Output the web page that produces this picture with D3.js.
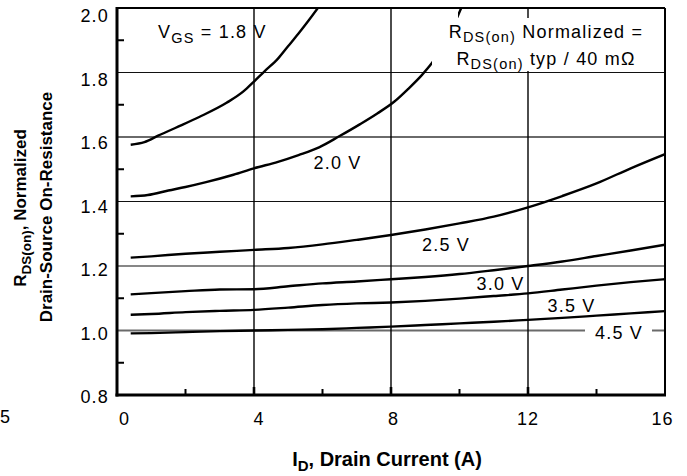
<!DOCTYPE html>
<html>
<head>
<meta charset="utf-8">
<script src="https://cdn.jsdelivr.net/npm/d3@7"></script>
<style>
  html, body { margin: 0; padding: 0; background: #fff; }
  svg { display: block; font-family: "Liberation Sans", Arial, Helvetica, sans-serif; }
</style>
</head>
<body>
<svg id="chart" width="687" height="476"></svg>
<script>
// Normalized on-resistance vs drain current, one curve per gate voltage
const xTicks = [0, 4, 8, 12, 16];
const xMinorTicks = [2, 6, 10, 14];
const yTicks = [0.8, 1.0, 1.2, 1.4, 1.6, 1.8, 2.0];
const yMinorTicks = [0.9, 1.1, 1.3, 1.5, 1.7, 1.9];

const id18 = [0.4, 0.8, 1.2, 1.7, 2.4, 3.2, 3.7, 4.0, 4.3, 4.7, 5.0, 5.3, 5.6, 5.9];
const r18  = [1.576, 1.584, 1.604, 1.628, 1.662, 1.706, 1.742, 1.772, 1.803, 1.843, 1.882, 1.921, 1.962, 2.005];

const id20 = [0.4, 0.9, 1.5, 2.0, 2.6, 3.4, 4.0, 4.7, 5.3, 5.9, 6.5, 7.1, 7.6, 8.1, 8.5, 8.9, 9.2, 9.6, 10.05];
const r20  = [1.416, 1.420, 1.434, 1.445, 1.460, 1.483, 1.503, 1.523, 1.544, 1.568, 1.603, 1.640, 1.673, 1.710, 1.749, 1.792, 1.830, 1.895, 2.0];

const id25 = [0.4, 1, 2, 3, 4, 5, 6, 7, 8, 9, 10, 11, 12, 13, 14, 15, 16];
const r25  = [1.226, 1.230, 1.238, 1.244, 1.250, 1.256, 1.267, 1.281, 1.296, 1.313, 1.332, 1.353, 1.382, 1.417, 1.456, 1.503, 1.547];

const id30 = [0.4, 1, 2, 3, 4, 5, 6, 7, 8, 9, 10, 11, 12, 13, 14, 15, 16];
const r30  = [1.112, 1.116, 1.122, 1.127, 1.128, 1.137, 1.146, 1.152, 1.159, 1.166, 1.175, 1.187, 1.200, 1.214, 1.231, 1.248, 1.266];

const id35 = [0.4, 1, 2, 3, 4, 5, 6, 7, 8, 9, 10, 11, 12, 13, 14, 15, 16];
const r35  = [1.049, 1.051, 1.057, 1.061, 1.064, 1.071, 1.079, 1.084, 1.087, 1.092, 1.099, 1.107, 1.115, 1.127, 1.139, 1.150, 1.159];

const id45 = [0.4, 1, 2, 3, 4, 5, 6, 7, 8, 9, 10, 11, 12, 13, 14, 15, 16];
const r45  = [0.991, 0.992, 0.995, 0.998, 1.000, 1.002, 1.004, 1.008, 1.012, 1.017, 1.022, 1.027, 1.033, 1.039, 1.046, 1.053, 1.060];

const seriesNames = ["1.8 V", "2.0 V", "2.5 V", "3.0 V", "3.5 V", "4.5 V"];

const series = [
  { name: seriesNames[0], x: id18, y: r18 },
  { name: seriesNames[1], x: id20, y: r20 },
  { name: seriesNames[2], x: id25, y: r25 },
  { name: seriesNames[3], x: id30, y: r30 },
  { name: seriesNames[4], x: id35, y: r35 },
  { name: seriesNames[5], x: id45, y: r45 }
];

const svg = d3.select("#chart");
const plot = { left: 117, right: 665, top: 8, bottom: 395 };

const x = d3.scaleLinear().domain([0, 16]).range([plot.left, plot.right]);
const y = d3.scaleLinear().domain([0.8, 2.0]).range([plot.bottom, plot.top]);
// tick label placement (labels sit on a slightly tighter pitch than the grid)
const xLab = d3.scaleLinear().domain([0, 16]).range([124, 662]);
const yLab = d3.scaleLinear().domain([0.8, 2.0]).range([397, 15.5]);

const FS = 18;       // regular text
const SUB = 14.5;    // subscripts
const LS = 1.2;      // letter spacing of regular text

// clip for curves
svg.append("defs").append("clipPath").attr("id", "plotClip")
  .append("rect")
  .attr("x", plot.left).attr("y", plot.top)
  .attr("width", plot.right - plot.left).attr("height", plot.bottom - plot.top);

// grid
const grid = svg.append("g");
grid.selectAll("line.h").data(yTicks.filter(v => v > 0.8 && v < 2.0)).join("line")
  .attr("x1", plot.left).attr("x2", plot.right)
  .attr("y1", d => y(d)).attr("y2", d => y(d))
  .attr("stroke", d => (d === 1.0 || d === 1.6) ? "#6a6a6a" : "#111")
  .attr("stroke-width", d => (d === 1.0 || d === 1.6) ? 2 : 1.2);
grid.selectAll("line.v").data(xTicks.filter(v => v > 0 && v < 16)).join("line")
  .attr("y1", plot.top).attr("y2", plot.bottom)
  .attr("x1", d => x(d)).attr("x2", d => x(d))
  .attr("stroke", "#000").attr("stroke-width", 1.4);

// curves
const line = d3.line().x(d => x(d[0])).y(d => y(d[1])).curve(d3.curveMonotoneX);
svg.append("g").attr("clip-path", "url(#plotClip)")
  .selectAll("path").data(series).join("path")
  .attr("d", s => line(s.x.map((v, i) => [v, s.y[i]])))
  .attr("fill", "none").attr("stroke", "#000").attr("stroke-width", 2.4)
  .attr("stroke-linejoin", "round");

// helper for text with a subscript part
function subText(g, parts, attrs, opts = {}) {
  const fs = opts.fs || FS, sub = opts.sub || SUB, ls = opts.ls === undefined ? LS : opts.ls;
  const t = g.append("text").attr("font-size", fs).attr("fill", "#000")
    .attr("letter-spacing", ls);
  Object.entries(attrs).forEach(([k, v]) => t.attr(k, v));
  parts.forEach(p => {
    if (p.sub) {
      t.append("tspan").attr("font-size", sub).attr("dy", 4.5).text(p.sub);
    } else {
      t.append("tspan").attr("dy", p.after ? -4.5 : 0).text(p.txt);
    }
  });
  return t;
}

// normalization note, on a white backing
const note = svg.append("g");
note.append("rect").attr("x", 432).attr("y", 9).attr("width", 26).attr("height", 62).attr("fill", "#fff");
note.append("rect").attr("x", 440).attr("y", 18).attr("width", 212).attr("height", 27).attr("fill", "#fff");
note.append("rect").attr("x", 446).attr("y", 45).attr("width", 198).attr("height", 26).attr("fill", "#fff");
subText(note, [{ txt: "R" }, { sub: "DS(on)" }, { txt: " Normalized =", after: true }],
  { x: 546, y: 37.5, "text-anchor": "middle" });
subText(note, [{ txt: "R" }, { sub: "DS(on)" }, { txt: " typ / 40 m\u03A9", after: true }],
  { x: 546, y: 64.5, "text-anchor": "middle" });

// gate voltage label for the first curve
subText(svg, [{ txt: "V" }, { sub: "GS" }, { txt: " = 1.8 V", after: true }],
  { x: 158, y: 38 });

// curve labels
const curveLabels = [
  { text: seriesNames[1], x: 337.5, y: 169 },
  { text: seriesNames[2], x: 446, y: 251 },
  { text: seriesNames[3], x: 500.5, y: 290 },
  { text: seriesNames[4], x: 571.5, y: 311.5 },
  { text: seriesNames[5], x: 619, y: 338.5, box: true }
];
const cl = svg.append("g");
cl.selectAll("rect").data(curveLabels.filter(d => d.box)).join("rect")
  .attr("x", d => d.x - 34).attr("y", d => d.y - 16).attr("width", 67).attr("height", 20)
  .attr("fill", "#fff");
cl.selectAll("text").data(curveLabels).join("text")
  .attr("x", d => d.x).attr("y", d => d.y)
  .attr("text-anchor", "middle").attr("font-size", FS)
  .attr("letter-spacing", LS)
  .text(d => d.text);

// frame
const frame = svg.append("g").attr("fill", "none").attr("stroke", "#000");
frame.append("line").attr("x1", plot.left).attr("x2", plot.right).attr("y1", plot.top).attr("y2", plot.top).attr("stroke-width", 2);
frame.append("line").attr("x1", plot.right).attr("x2", plot.right).attr("y1", plot.top).attr("y2", plot.bottom).attr("stroke-width", 2);
frame.append("line").attr("x1", plot.left).attr("x2", plot.left).attr("y1", plot.top - 1).attr("y2", plot.bottom + 1.5).attr("stroke-width", 3);
frame.append("line").attr("x1", plot.left - 1.5).attr("x2", plot.right + 1).attr("y1", plot.bottom).attr("y2", plot.bottom).attr("stroke-width", 3);

// inward ticks
const ticks = svg.append("g").attr("stroke", "#000");
ticks.selectAll("line.ym").data(yMinorTicks).join("line")
  .attr("x1", plot.left).attr("x2", plot.left + 7)
  .attr("y1", d => y(d)).attr("y2", d => y(d)).attr("stroke-width", 2);
ticks.selectAll("line.xm").data(xMinorTicks).join("line")
  .attr("y1", plot.bottom).attr("y2", plot.bottom - 6)
  .attr("x1", d => x(d)).attr("x2", d => x(d)).attr("stroke-width", 2);
ticks.selectAll("line.xM").data(xTicks.filter(v => v > 0 && v < 16)).join("line")
  .attr("y1", plot.bottom).attr("y2", plot.bottom - 8)
  .attr("x1", d => x(d)).attr("x2", d => x(d)).attr("stroke-width", 2.6);

// tick labels
svg.append("g").selectAll("text").data(yTicks).join("text")
  .attr("x", 109).attr("y", d => yLab(d)).attr("dy", "0.36em")
  .attr("text-anchor", "end").attr("font-size", FS).attr("letter-spacing", LS)
  .text(d => d.toFixed(1));
svg.append("g").selectAll("text").data(xTicks).join("text")
  .attr("x", d => xLab(d) + LS / 2).attr("y", 425)
  .attr("text-anchor", "middle").attr("font-size", FS).attr("letter-spacing", LS)
  .text(d => d);

// neighbouring tick label at the left edge
svg.append("text").attr("x", 0).attr("y", 423)
  .attr("font-size", FS).text("5");

// axis titles
subText(svg, [{ txt: "I" }, { sub: "D" }, { txt: ", Drain Current (A)", after: true }],
  { x: 387, y: 466, "text-anchor": "middle", "font-weight": "bold" },
  { fs: 20, sub: 15, ls: 0 });

subText(svg, [{ txt: "R" }, { sub: "DS(on)" }, { txt: ", Normalized", after: true }],
  { transform: "translate(26,208) rotate(-90)", "text-anchor": "middle", "font-weight": "bold" },
  { fs: 17, sub: 13.5, ls: 0 });
svg.append("text").attr("transform", "translate(51.5,207) rotate(-90)")
  .attr("text-anchor", "middle").attr("font-size", 17).attr("font-weight", "bold")
  .text("Drain-Source On-Resistance");
</script>
</body>
</html>
